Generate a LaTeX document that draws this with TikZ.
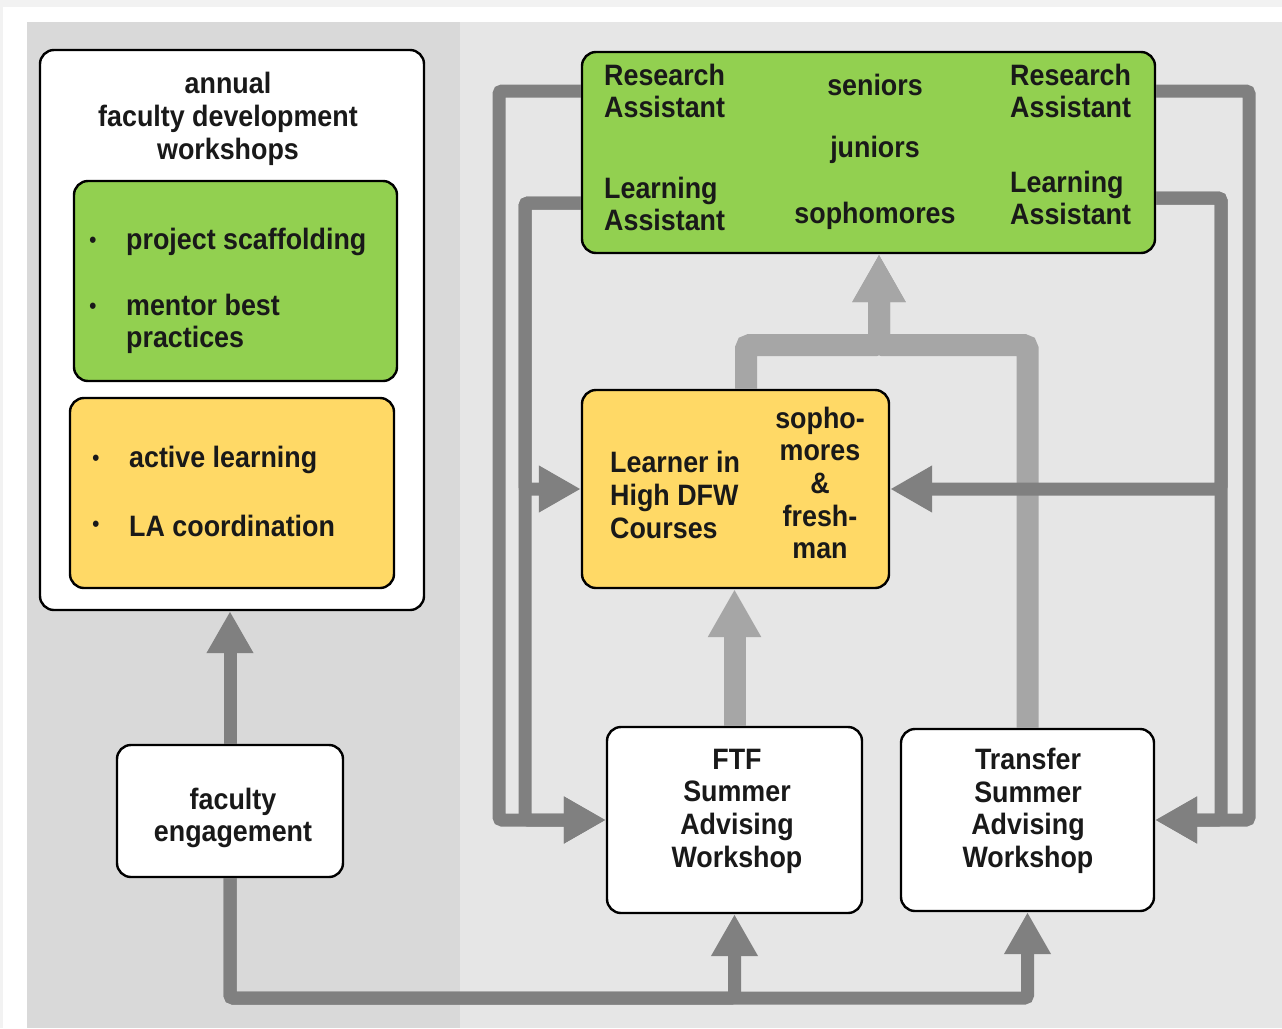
\documentclass[tikz,border=0pt]{standalone}
\usepackage{fontspec}
\setmainfont{Liberation Sans}[FakeStretch=0.91]
\usetikzlibrary{arrows.meta}
\definecolor{gfill}{HTML}{92D050}
\definecolor{ofill}{HTML}{FFD966}
\definecolor{darkg}{HTML}{808080}
\definecolor{lightg}{HTML}{A6A6A6}
\definecolor{lpanel}{HTML}{D9D9D9}
\definecolor{rpanel}{HTML}{E6E6E6}
\definecolor{outerbg}{HTML}{F2F2F2}
\begin{document}
\begin{tikzpicture}[x=1pt,y=-1pt,
 box/.style={draw=black, line width=2.4pt, rounded corners=14pt, inner sep=0pt},
 txt/.style={font=\fontsize{29.5}{32.7}\selectfont\bfseries, inner sep=0pt, text=black!90},
 bul/.style={font=\fontsize{22}{24}\selectfont\bfseries, inner sep=0pt, text=black!90},
 darkline/.style={draw=darkg, line width=13pt, rounded corners=3pt},
 darkarrow/.style={darkline, -{Triangle[length=42pt,width=44pt]}},
 lightline/.style={draw=lightg, line width=22pt, rounded corners=4pt},
 lightarrow/.style={lightline, -{Triangle[length=48pt,width=50pt]}},
]
% backgrounds
\fill[outerbg] (0,0) rectangle (1282,1028);
\fill[white] (3,7) rectangle (1282,1028);
\fill[lpanel] (27,22) rectangle (460,1028);
\fill[rpanel] (460,22) rectangle (1282,1028);
\useasboundingbox (0,0) rectangle (1282,1028);

% boxes
\node[box, fill=white, minimum width=384pt, minimum height=560pt] (annual) at (232,330) {};
\node[box, fill=gfill, minimum width=323pt, minimum height=200pt] (lgreen) at (235.5,281) {};
\node[box, fill=ofill, minimum width=324pt, minimum height=190pt] (lorange) at (232,493) {};
\node[box, fill=white, minimum width=226pt, minimum height=132pt] (fac) at (230,811) {};
\node[box, fill=gfill, minimum width=573pt, minimum height=201pt] (tgreen) at (868.5,152.5) {};
\node[box, fill=ofill, minimum width=307pt, minimum height=198pt] (morange) at (735.5,489) {};
\node[box, fill=white, minimum width=255pt, minimum height=186pt] (ftf) at (734.5,820) {};
\node[box, fill=white, minimum width=253pt, minimum height=182pt] (trans) at (1027.5,820) {};

% helper coordinates
\coordinate (Lout) at (499,91);
\coordinate (Lin) at (525,203);
\coordinate (Rout) at (1249,91);
\coordinate (Rin) at (1221,198);
\coordinate (yF) at (0,820);
\coordinate (ybot) at (0,998);
\coordinate (mid) at (879,345);
\coordinate (ml) at (746,345);

% light connectors
\draw[lightarrow] (ftf.north) -- (ftf.north |- morange.south);
\draw[lightarrow] (trans.north) -- (trans.north |- mid) -- (mid) -- (mid |- tgreen.south);
\draw[lightarrow] (ml |- morange.north) -- (ml) -- (mid) -- (mid |- tgreen.south);

% dark connectors
\draw[darkarrow] (fac.north) -- (fac.north |- annual.south);
\draw[darkarrow] (fac.south) |- (ybot -| trans.south) -- (trans.south);
\draw[darkarrow] (fac.south) |- (ybot -| ftf.south) -- (ftf.south);
\draw[darkarrow] (tgreen.west |- Lout) -- (Lout) -- (Lout |- yF) -- (ftf.west |- yF);
\draw[darkarrow] (tgreen.west |- Lin) -- (Lin) -- (Lin |- yF) -- (ftf.west |- yF);
\draw[darkarrow] (tgreen.west |- Lin) -- (Lin) -- (Lin |- morange.west) -- (morange.west);
\draw[darkarrow] (tgreen.east |- Rout) -- (Rout) -- (Rout |- yF) -- (trans.east |- yF);
\draw[darkarrow] (tgreen.east |- Rin) -- (Rin) -- (Rin |- yF) -- (trans.east |- yF);
\draw[darkarrow] (tgreen.east |- Rin) -- (Rin) -- (Rin |- morange.east) -- (morange.east);

% texts
\node[txt, align=center] (tannual) at (228,119) {annual\\faculty development\\workshops};
\node[bul] (b1) at (93,242) {•};
\node[txt, anchor=west] (t1) at (126,242) {project scaffolding};
\node[bul] (b2) at (93,308) {•};
\node[txt, anchor=west, align=left] (t2) at (126,324) {mentor best\\practices};
\node[bul] (b3) at (96,460) {•};
\node[txt, anchor=west] (t3) at (129,460) {active learning};
\node[bul] (b4) at (96,526) {•};
\node[txt, anchor=west] (t4) at (129,526) {LA coordination};
\node[txt, align=center] (tfac) at (233,818) {faculty\\engagement};

\node[txt, anchor=west, align=left] (ra1) at (604,91) {Research\\Assistant};
\node[txt] (sen) at (875,85) {seniors};
\node[txt] (jun) at (875,150) {juniors};
\node[txt, anchor=west, align=left] (la1) at (604,204) {Learning\\Assistant};
\node[txt] (soph) at (875,216) {sophomores};
\node[txt, anchor=west, align=left] (ra2) at (1010,91) {Research\\Assistant};
\node[txt, anchor=west, align=left] (la2) at (1010,198) {Learning\\Assistant};

\node[txt, anchor=west, align=left] (learner) at (610,495) {Learner in\\High DFW\\Courses};
\node[txt, align=center] (sf) at (820,483) {sopho-\\mores\\\&\\fresh-\\man};

\node[txt, align=center] (tftf) at (737,811) {FTF\\Summer\\Advising\\Workshop};
\node[txt, align=center] (ttrans) at (1028,811) {Transfer\\Summer\\Advising\\Workshop};
\end{tikzpicture}
\end{document}
